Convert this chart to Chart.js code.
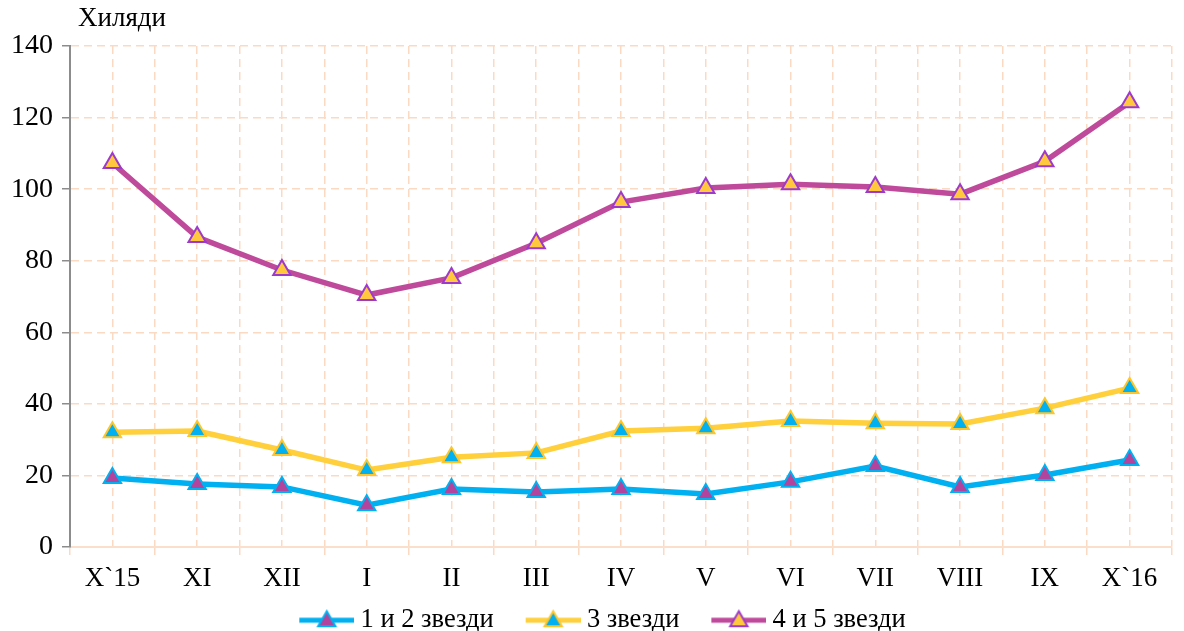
<!DOCTYPE html>
<html>
<head>
<meta charset="utf-8">
<script src="https://cdn.jsdelivr.net/npm/chart.js@4"></script>
<style>
  html, body { margin: 0; padding: 0; background: #fff; }
  #wrap { width: 1184px; height: 631px; }
</style>
</head>
<body>
<div id="wrap"><canvas id="hotels-chart"></canvas></div>
<script>
// Categories (months, Oct 2015 - Oct 2016)
const months = ["X`15", "XI", "XII", "I", "II", "III", "IV", "V", "VI", "VII", "VIII", "IX", "X`16"];

// Series values, thousands
const stars12 = [19.3, 17.6, 16.8, 11.7, 16.2, 15.4, 16.2, 14.8, 18.2, 22.6, 16.8, 20.1, 24.3];
const stars3 = [32.1, 32.4, 27.1, 21.5, 25.1, 26.3, 32.4, 33.2, 35.2, 34.6, 34.4, 38.8, 44.4];
const stars45 = [107.3, 86.6, 77.4, 70.4, 75.2, 84.9, 96.4, 100.3, 101.4, 100.6, 98.6, 107.8, 124.3];

const seriesNames = ["1 и 2 звезди", "3 звезди", "4 и 5 звезди"];
const yTicks = { min: 0, max: 140, step: 20 };

const serif = '"Liberation Serif", "Times New Roman", serif';
const gridColor = '#FBDAC4';

//Colours: line, marker fill, marker border
const blue = '#00B0F0';
const yellow = '#FFCF3C';
const purple = '#BF4A9C';

// legend swatch: line with a triangle on it
const makeSwatch = (lineColor, fill, border) => {
  const c = document.createElement('canvas');
  c.width = 84;
  c.height = 24;
  const ctx = c.getContext('2d');
  ctx.strokeStyle = lineColor;
  ctx.lineWidth = 5;
  ctx.lineCap = 'butt';
  ctx.beginPath();
  ctx.moveTo(29, 12);
  ctx.lineTo(84, 12);
  ctx.stroke();
  const cx = 56.5, cy = 13, r = 10;
  ctx.beginPath();
  ctx.moveTo(cx, cy - r);
  ctx.lineTo(cx + r * 0.866, cy + r * 0.5);
  ctx.lineTo(cx - r * 0.866, cy + r * 0.5);
  ctx.closePath();
  ctx.fillStyle = fill;
  ctx.fill();
  ctx.lineWidth = 2;
  ctx.strokeStyle = border;
  ctx.stroke();
  return c;
};

const unitLabel = {
  id: 'unitLabel',
  afterDraw(chart) {
    const ctx = chart.ctx;
    ctx.save();
    ctx.font = '27px ' + serif;
    ctx.fillStyle = '#000';
    ctx.textAlign = 'left';
    ctx.textBaseline = 'alphabetic';
    ctx.fillText('Хиляди', 78, 26);
    ctx.restore();
  }
};

const dataset = (label, values, line, fill, border) => ({
  label: label,
  data: values,
  borderColor: line,
  backgroundColor: line,
  borderWidth: 5.5,
  pointStyle: 'triangle',
  pointRadius: 10,
  pointHoverRadius: 10,
  pointBackgroundColor: fill,
  pointBorderColor: border,
  pointBorderWidth: 2,
  tension: 0,
  swatch: makeSwatch(line, fill, border)
});

const hotelsData = {
  labels: months,
  datasets: [
    dataset(seriesNames[0], stars12, blue, '#B2449D', blue),
    dataset(seriesNames[1], stars3, yellow, blue, '#FFC62A'),
    dataset(seriesNames[2], stars45, purple, '#FFC83D', '#9E3ACB')
  ]
};

const hotelsOptions = {
  responsive: true,
  maintainAspectRatio: false,
  animation: false,
  layout: {
    padding: { top: 46, right: 1, left: 0, bottom: 0 }
  },
  scales: {
    x: {
      offset: true,
      grid: {
        offset: true,
        color: gridColor,
        lineWidth: 1.5,
        tickLength: 8,
        tickColor: gridColor
      },
      border: { color: '#FBDFCB', width: 2, dash: [8, 5] },
      ticks: {
        color: '#000',
        padding: 8,
        font: { family: serif, size: 27 }
      },
      afterFit: (scale) => { scale.height = 50; }
    },
    x2: {
      type: 'category',
      position: 'bottom',
      offset: true,
      grid: {
        offset: false,
        color: gridColor,
        lineWidth: 1.5,
        drawTicks: false
      },
      border: { display: false, dash: [8, 5] },
      ticks: { display: false },
      afterFit: (scale) => { scale.height = 0; }
    },
    y: {
      min: yTicks.min,
      max: yTicks.max,
      ticks: {
        stepSize: yTicks.step,
        color: '#000',
        padding: 9,
        font: { family: serif, size: 28 }
      },
      grid: {
        color: gridColor,
        lineWidth: 1.5,
        tickLength: 8,
        tickColor: '#8C8C8C',
        tickBorderDash: []
      },
      border: { color: '#8C8C8C', width: 2, dash: [8, 5] },
      afterFit: (scale) => { scale.width = 70; }
    }
  },
  plugins: {
    legend: {
      position: 'bottom',
      maxHeight: 34,
      labels: {
        usePointStyle: true,
        pointStyleWidth: 70,
        boxHeight: 24,
        padding: 10,
        color: '#000',
        font: { family: serif, size: 26.5 },
        generateLabels: (chart) => chart.data.datasets.map((ds, i) => ({
          text: ds.label,
          pointStyle: ds.swatch,
          fillStyle: ds.borderColor,
          strokeStyle: ds.borderColor,
          lineWidth: 0,
          hidden: false,
          datasetIndex: i
        }))
      }
    },
    tooltip: { enabled: false }
  }
};

let hotelsChart = new Chart(document.getElementById('hotels-chart'), {
  type: 'line',
  data: hotelsData,
  options: hotelsOptions,
  plugins: [unitLabel]
});
</script>
</body>
</html>
